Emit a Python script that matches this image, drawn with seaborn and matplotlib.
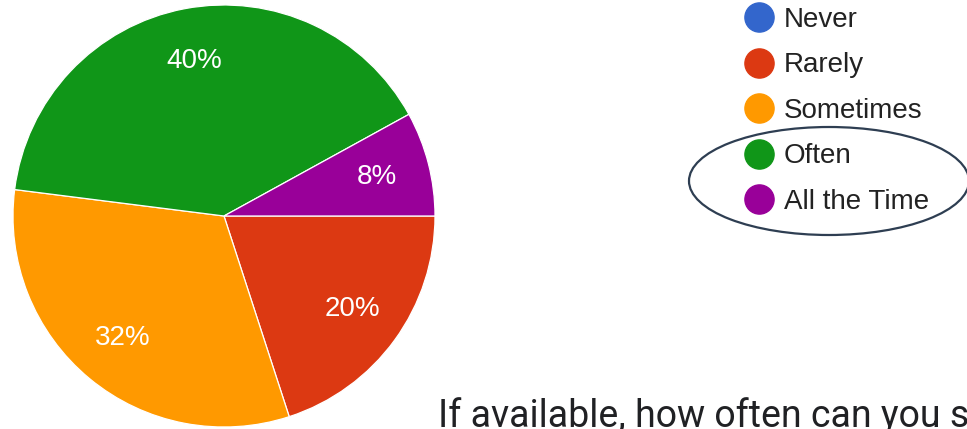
import matplotlib
matplotlib.use("Agg")
import matplotlib.pyplot as plt
from matplotlib.lines import Line2D
from matplotlib.patches import Ellipse
import seaborn as sns

# survey answers (percent of responses)
answers = ["Never", "Rarely", "Sometimes", "Often", "All the Time"]
shares = [0, 20, 32, 40, 8]
question = "If available, how often can you s"

sns.set_theme(style="white")
plt.rcParams["font.family"] = ["Liberation Sans", "DejaVu Sans"]
colors = sns.color_palette(["#3366cc", "#dc3912", "#ff9900", "#109618", "#990099"])

fig = plt.figure(figsize=(9.67, 4.29), dpi=100)
fig.patch.set_facecolor("white")

# pie axis: square box, centre at (224, 216) px, radius 211 px
ax = fig.add_axes([13 / 967, 2 / 429, 422 / 967, 422 / 429])


def pct_label(p):
    return "" if p < 0.5 else f"{p:.0f}%"


wedges, texts, autotexts = ax.pie(
    shares,
    colors=colors,
    startangle=0,
    counterclock=False,
    autopct=pct_label,
    pctdistance=0.75,
    wedgeprops=dict(edgecolor="white", linewidth=0.9),
    textprops=dict(color="white", fontsize=20),
)
ax.set_xlim(-1, 1)
ax.set_ylim(-1, 1)
ax.set_aspect("equal")
ax.axis("off")

handles = [
    Line2D([0], [0], marker="o", linestyle="", markersize=21,
           markerfacecolor=c, markeredgecolor=c)
    for c in colors
]
fig.legend(
    handles, answers,
    loc="upper left",
    bbox_to_anchor=(731 / 967, 1.0 + 7 / 429),
    frameon=False,
    fontsize=20,
    handlelength=1.0,
    handletextpad=0.4,
    labelspacing=0.7,
    borderpad=0.0,
    labelcolor="#222222",
)

# hand-drawn style ring round the last two legend entries
ring = Ellipse((829 / 967, 1 - 181 / 429), 280 / 967, 108 / 429,
               transform=fig.transFigure, fill=False,
               edgecolor="#2e3e52", linewidth=1.6)
fig.patches.append(ring)

# question text, cut off by the screenshot's right and bottom edges
fig.text(438 / 967, 1 - 427 / 429, question, family="Roboto",
         fontsize=27, color="#202124", va="baseline", ha="left")

fig.savefig("out.png", dpi=100)
